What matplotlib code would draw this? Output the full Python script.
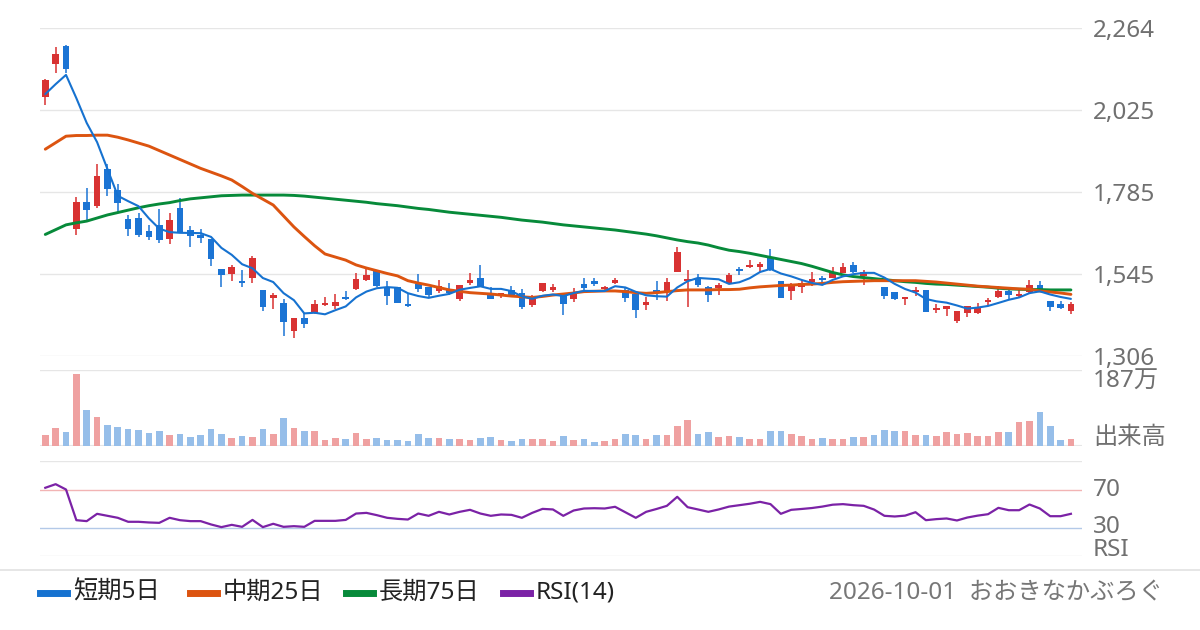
import numpy as np
import matplotlib
matplotlib.use("Agg")
import matplotlib.pyplot as plt
from matplotlib.lines import Line2D
from matplotlib.transforms import blended_transform_factory

plt.rcParams['font.family'] = ['Noto Sans', 'Noto Sans CJK JP', 'DejaVu Sans']

#==================
# 1. DATA (read off)
#==================
opens = [2063, 2160, 2211, 1678, 1756, 1745, 1852, 1791, 1706, 1709,
         1671, 1689, 1649, 1738, 1673, 1659, 1649, 1560, 1546, 1524,
         1535, 1499, 1476, 1461, 1378, 1417, 1431, 1455, 1452, 1477,
         1502, 1528, 1557, 1507, 1507, 1458, 1515, 1507, 1497, 1500,
         1472, 1520, 1533, 1491, 1481, 1499, 1489, 1456, 1497, 1499,
         1482, 1472, 1516, 1525, 1501, 1520, 1499, 1486, 1455, 1499,
         1494, 1552, 1525, 1530, 1507, 1504, 1518, 1560, 1567, 1567,
         1591, 1525, 1497, 1507, 1523, 1533, 1535, 1549, 1572, 1540,
         1532, 1507, 1493, 1473, 1493, 1499, 1441, 1444, 1409, 1432,
         1432, 1465, 1479, 1497, 1480, 1494, 1513, 1467, 1458, 1438]
highs = [2115, 2209, 2213, 1770, 1796, 1867, 1867, 1808, 1718, 1723,
         1689, 1735, 1723, 1767, 1686, 1677, 1649, 1560, 1572, 1557,
         1598, 1499, 1489, 1473, 1417, 1431, 1469, 1479, 1487, 1496,
         1547, 1559, 1557, 1525, 1507, 1489, 1545, 1507, 1528, 1518,
         1513, 1549, 1572, 1507, 1491, 1510, 1503, 1483, 1518, 1516,
         1482, 1504, 1533, 1533, 1510, 1533, 1508, 1486, 1479, 1525,
         1535, 1623, 1557, 1545, 1510, 1518, 1549, 1567, 1586, 1581,
         1619, 1525, 1518, 1528, 1552, 1540, 1567, 1578, 1581, 1557,
         1535, 1507, 1493, 1478, 1507, 1499, 1458, 1452, 1437, 1452,
         1460, 1476, 1510, 1507, 1501, 1528, 1525, 1467, 1467, 1465]
lows = [2039, 2132, 2132, 1660, 1700, 1739, 1774, 1725, 1656, 1654,
        1645, 1637, 1632, 1668, 1625, 1637, 1570, 1508, 1526, 1507,
        1518, 1438, 1444, 1365, 1358, 1389, 1429, 1452, 1442, 1469,
        1499, 1526, 1508, 1455, 1462, 1448, 1494, 1479, 1489, 1484,
        1467, 1513, 1507, 1472, 1475, 1479, 1444, 1450, 1494, 1494,
        1426, 1465, 1499, 1510, 1496, 1516, 1465, 1418, 1440, 1470,
        1467, 1552, 1450, 1508, 1465, 1484, 1516, 1543, 1562, 1552,
        1555, 1474, 1469, 1491, 1511, 1523, 1533, 1547, 1549, 1513,
        1526, 1473, 1469, 1455, 1480, 1435, 1432, 1423, 1403, 1421,
        1428, 1455, 1475, 1469, 1475, 1491, 1494, 1438, 1443, 1429]
closes = [2112, 2188, 2145, 1756, 1732, 1832, 1795, 1754, 1678, 1659,
          1654, 1645, 1703, 1668, 1657, 1651, 1590, 1543, 1566, 1520,
          1592, 1448, 1484, 1404, 1417, 1399, 1458, 1461, 1464, 1472,
          1531, 1543, 1510, 1480, 1462, 1452, 1502, 1483, 1511, 1489,
          1513, 1528, 1507, 1473, 1489, 1481, 1450, 1472, 1518, 1507,
          1458, 1494, 1504, 1516, 1507, 1528, 1476, 1440, 1465, 1494,
          1522, 1610, 1531, 1513, 1484, 1512, 1543, 1555, 1572, 1575,
          1557, 1476, 1513, 1520, 1531, 1528, 1549, 1565, 1552, 1550,
          1528, 1480, 1472, 1478, 1498, 1435, 1446, 1452, 1437, 1452,
          1450, 1470, 1496, 1483, 1486, 1513, 1496, 1450, 1447, 1458]

# volume in 万 shares
volume = [27.2, 44.5, 34.6, 178, 89, 71.7, 51.9, 47, 42, 39.6,
          32.1, 37.1, 27.2, 29.7, 22.2, 27.2, 42, 29.7, 19.8, 24.7,
          22.2, 42, 29.7, 69.2, 44.5, 37.1, 37.1, 14.8, 19.8, 17.3,
          32.1, 17.3, 19.8, 14.8, 14.8, 12.4, 29.7, 19.8, 19.8, 17.3,
          17.3, 14.8, 19.8, 22.2, 14.8, 12.4, 17.3, 17.3, 17.3, 12.4,
          24.7, 14.8, 17.3, 9.9, 12.4, 17.3, 29.7, 27.2, 17.3, 27.2,
          27.2, 49.4, 64.3, 29.7, 34.6, 22.2, 24.7, 22.2, 17.3, 17.3,
          37.1, 37.1, 29.7, 24.7, 17.3, 19.8, 17.3, 17.3, 22.2, 22.2,
          27.2, 39.6, 37.1, 37.1, 27.2, 27.2, 24.7, 34.6, 29.7, 32.1,
          24.7, 24.7, 34.6, 34.6, 59.3, 61.8, 84, 49.4, 14.8, 17.3]

rsi = [71.8, 75.6, 70, 37.7, 36.7, 44.4, 42.3, 40.2, 36, 36,
       35.3, 34.9, 40.2, 37.7, 36.7, 36.7, 33.2, 30.4, 32.8, 30.7,
       38, 30.4, 33.9, 30.7, 31.4, 30.7, 37, 37, 37, 38,
       44.7, 45.4, 43, 40.2, 39.1, 38.4, 44.7, 42.3, 46.5, 43.7,
       46.5, 48.6, 44.7, 42.3, 43.7, 43.3, 40.2, 45.4, 49.6, 49,
       42.3, 47.9, 50, 50.3, 50, 51.8, 46, 40.2, 46.5, 49.5,
       52.8, 62.3, 51.4, 49, 46.5, 49, 52, 53.5, 55, 57,
       54.6, 44.4, 48.6, 49.5, 50.5, 52, 54, 54.6, 53.5, 52.8,
       48.9, 42.3, 41.6, 42.5, 46.1, 37.7, 38.8, 39.5, 37.4, 40.5,
       42.5, 44, 50.7, 48.2, 48.2, 54.2, 50, 41.9, 41.9, 44.4]

# moving averages that reach back before the window
ma5_first = [2071, 2100, 2127, 2059]
ma25 = [1910, 1929, 1948, 1950, 1950, 1951, 1951, 1945, 1937, 1928,
        1919, 1906, 1893, 1880, 1867, 1854, 1843, 1832, 1820, 1801,
        1781, 1764, 1747, 1715, 1683, 1655, 1628, 1604, 1595, 1586,
        1572, 1563, 1555, 1547, 1540, 1526, 1519, 1513, 1506, 1499,
        1495, 1491, 1489, 1487, 1484, 1481, 1479, 1477, 1480, 1484,
        1487, 1490, 1494, 1495, 1496, 1496, 1494, 1491, 1489, 1491,
        1494, 1497, 1499, 1499, 1499, 1500, 1500, 1501, 1505, 1508,
        1510, 1512, 1513, 1515, 1516, 1518, 1521, 1523, 1524, 1525,
        1526, 1526, 1526, 1526, 1526, 1524, 1522, 1519, 1516, 1513,
        1510, 1508, 1506, 1504, 1502, 1501, 1496, 1493, 1490, 1486]
ma75 = [1661, 1675, 1689, 1695, 1700, 1709, 1718, 1725, 1732, 1739,
        1745, 1750, 1754, 1760, 1765, 1768, 1771, 1774, 1775, 1776,
        1776, 1776, 1776, 1776, 1775, 1773, 1770, 1767, 1764, 1761,
        1758, 1755, 1751, 1748, 1745, 1741, 1737, 1734, 1730, 1726,
        1723, 1720, 1717, 1714, 1711, 1707, 1703, 1700, 1697, 1693,
        1689, 1686, 1683, 1680, 1677, 1674, 1670, 1666, 1662, 1657,
        1651, 1645, 1640, 1636, 1630, 1622, 1615, 1611, 1606, 1600,
        1594, 1588, 1582, 1576, 1568, 1559, 1550, 1543, 1538, 1535,
        1532, 1529, 1526, 1523, 1521, 1518, 1516, 1515, 1513, 1511,
        1509, 1507, 1504, 1502, 1501, 1500, 1500, 1499, 1499, 1499]

price_ticks = [1306, 1545.5, 1785, 2024.5, 2264]
price_tick_labels = ["1,306", "1,545", "1,785", "2,025", "2,264"]
vol_max = 187
vol_label = "187万"

legend_names = ["短期5日", "中期25日", "長期75日", "RSI(14)"]
footer = "2026-10-01  おおきなかぶろぐ"

#===========
# 2. DERIVED
#===========
o = np.array(opens, float)
h = np.array(highs, float)
l = np.array(lows, float)
c = np.array(closes, float)
x = np.arange(len(c))
up = c >= o

ma5 = np.convolve(c, np.ones(5) / 5, mode="full")[:len(c)]
ma5[:4] = ma5_first

RED, BLUE = "#d83232", "#1b74d4"
C_MA5, C_MA25, C_MA75, C_RSI = "#1672d0", "#dc5410", "#078a3a", "#7b22a6"
GRID = "#e6e6e6"
LABEL = "#707070"
FS = 17.5

#=========
# 3. FIGURE
#=========
W, H = 1200, 630
fig = plt.figure(figsize=(W / 100, H / 100), dpi=100)


def box(left, top, right, bottom):
    return [left / W, 1 - bottom / H, (right - left) / W, (bottom - top) / H]


ax = fig.add_axes(box(40, 28, 1082, 356))
axv = fig.add_axes(box(40, 370, 1082, 446))
axr = fig.add_axes(box(40, 461, 1082, 556))

for a in (ax, axv, axr):
    a.set_xlim(-0.51, 100.07)
    for s in a.spines.values():
        s.set_visible(False)
    a.set_xticks([])
    a.patch.set_alpha(0)

# price panel
ax.set_ylim(1306, 2264)
for t in price_ticks:
    ax.axhline(t, color=GRID, lw=1, zorder=0)
ax.yaxis.tick_right()
ax.set_yticks(price_ticks)
ax.set_yticklabels(price_tick_labels)
ax.tick_params(axis="y", length=0, pad=8, labelsize=FS, labelcolor=LABEL)

cols = np.where(up, RED, BLUE)
ax.vlines(x, l, h, colors=cols, lw=1.1, zorder=2)
body = np.maximum(np.abs(c - o), 3)
ax.bar(x, body, bottom=np.minimum(o, c), width=0.64, color=cols, zorder=3)

ax.plot(x, ma75, color=C_MA75, lw=2.1, zorder=4, solid_capstyle="round")
ax.plot(x, ma25, color=C_MA25, lw=2.1, zorder=5, solid_capstyle="round")
ax.plot(x, ma5, color=C_MA5, lw=1.5, zorder=6, solid_capstyle="round")

# volume panel
axv.set_ylim(0, vol_max)
axv.set_yticks([])
axv.axhline(vol_max, color=GRID, lw=1, zorder=0)
axv.axhline(0, color=GRID, lw=1.5, zorder=0)
axv.bar(x, volume, width=0.64, color=np.where(up, "#efa1a1", "#96bee9"), zorder=2)

# RSI panel
axr.set_ylim(0, 100)
axr.set_yticks([])
axr.axhline(100, color=GRID, lw=1, zorder=0)
axr.axhline(0, color=GRID, lw=1, zorder=0)
axr.axhline(70, color="#f2b4b4", lw=1, zorder=1)
axr.axhline(30, color="#b3c9e8", lw=1, zorder=1)
axr.plot(x, rsi, color=C_RSI, lw=1.6, zorder=3)

tr = blended_transform_factory(axr.transAxes, axr.transData)
lx = (1093 - 40) / 1042
axr.text(lx, 70, "70", transform=tr, va="center", ha="left", fontsize=FS, color=LABEL)
axr.text(lx, 31, "30", transform=tr, va="center", ha="left", fontsize=FS, color=LABEL)
axr.text(lx, 6, "RSI", transform=tr, va="center", ha="left", fontsize=FS, color=LABEL)

trv = blended_transform_factory(axv.transAxes, axv.transData)
axv.text(lx, vol_max, vol_label, transform=trv, va="top", ha="left", fontsize=FS, color=LABEL)
axv.text(lx, 20, "出来高", transform=trv, va="center", ha="left", fontsize=FS, color=LABEL)

#===========
# 4. FOOTER
#===========
fig.add_artist(Line2D([0, 1], [1 - 570 / H] * 2, color="#e2e2e2", lw=1.2,
                      transform=fig.transFigure))
ly = 1 - 593 / H
sw_x = [40, 190, 346, 503]
for sx, name, col in zip(sw_x, legend_names, [C_MA5, C_MA25, C_MA75, C_RSI]):
    fig.add_artist(Line2D([sx / W, (sx + 27) / W], [ly, ly], color=col, lw=5,
                          transform=fig.transFigure))
    fig.text((sx + 33) / W, ly, name, va="center", ha="left", fontsize=FS, color="#222222")
fig.text(1163 / W, ly, footer, va="center", ha="right", fontsize=FS, color="#777777")

fig.savefig("out.png", dpi=100)
